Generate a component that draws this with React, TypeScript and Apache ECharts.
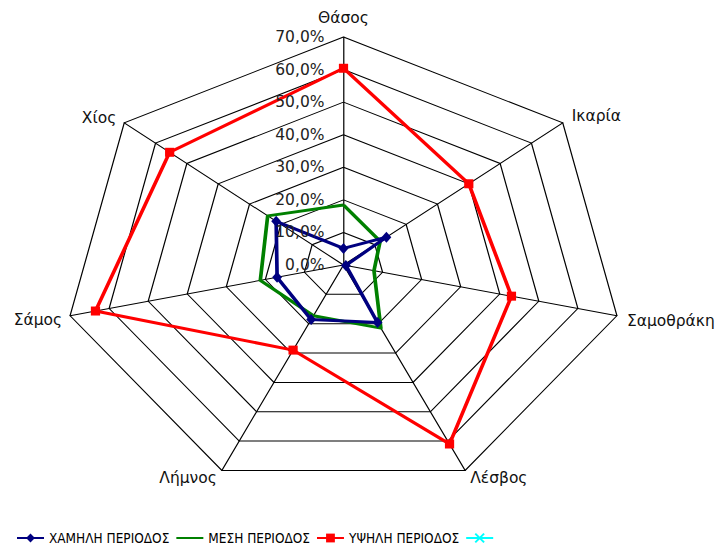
import React, { useEffect, useRef } from 'react';
import * as echarts from 'echarts';

// Categories listed clockwise starting from the top spoke
const categories = ['Θάσος', 'Ικαρία', 'Σαμοθράκη', 'Λέσβος', 'Λήμνος', 'Σάμος', 'Χίος'];
const lowSeason = [5.1, 13.7, 0.6, 19.6, 18.6, 17.0, 21.5];
const midSeason = [18.4, 11.7, 7.8, 21.5, 17.3, 21.3, 24.2];
const highSeason = [60.4, 40.0, 43.0, 61.0, 29.0, 63.5, 55.5];
const extraSeason: number[] = [];
const tickValues = [0, 10, 20, 30, 40, 50, 60, 70];
const seriesNames = ['ΧΑΜΗΛΗ ΠΕΡΙΟΔΟΣ', 'ΜΕΣΗ ΠΕΡΙΟΔΟΣ', 'ΥΨΗΛΗ ΠΕΡΙΟΔΟΣ', ' '];
const AXIS_MAX = 70;

// layout
const W = 717;
const H = 549;
const STRETCH = 1.23;
const A_W = W / STRETCH;
const CX = 343.5;
const CY = 265;
const R = 228;
const FONT = '"DejaVu Sans", Verdana, sans-serif';
const LEGEND_FONT = '"DejaVu Sans Condensed", "DejaVu Sans", sans-serif';

// name label offsets from each outer vertex [dx, dy, align]
const nameLayout: [number, number, string][] = [
  [0, -19, 'center'],
  [9, -7, 'left'],
  [10, 5, 'left'],
  [5, 8, 'left'],
  [-5, 8, 'right'],
  [-8, 4, 'right'],
  [-8, -5, 'right'],
];

// ECharts places indicators counter-clockwise: reorder so they run clockwise
function ccw<T>(arr: T[]): T[] {
  return [arr[0], ...arr.slice(1).reverse()];
}

const fmtPct = (v: number) => v.toFixed(1).replace('.', ',') + '%';

export default function App() {
  const refA = useRef<HTMLDivElement>(null);
  const refB = useRef<HTMLDivElement>(null);

  useEffect(() => {
    if (!refA.current || !refB.current) return;
    const chartA = echarts.init(refA.current, undefined, { renderer: 'svg' });
    const chartB = echarts.init(refB.current, undefined, { renderer: 'svg' });

    chartA.setOption({
      animation: false,
      radar: {
        center: [CX / STRETCH, CY],
        radius: R,
        startAngle: 90,
        shape: 'polygon',
        splitNumber: 7,
        indicator: ccw(categories).map((name) => ({ name, min: 0, max: AXIS_MAX })),
        axisName: { show: false },
        axisLine: { lineStyle: { color: '#000', width: 1 } },
        splitLine: { lineStyle: { color: '#000', width: 1 } },
        splitArea: { show: false },
        axisLabel: { show: false },
        axisTick: { show: false },
      },
      series: [
        {
          type: 'radar',
          silent: true,
          data: [
            {
              name: seriesNames[1],
              value: ccw(midSeason),
              symbol: 'none',
              lineStyle: { color: '#008000', width: 3 },
              itemStyle: { color: '#008000' },
            },
            {
              name: seriesNames[0],
              value: ccw(lowSeason),
              symbol: 'diamond',
              symbolSize: [8, 11],
              lineStyle: { color: '#000080', width: 3 },
              itemStyle: { color: '#000080' },
            },
            {
              name: seriesNames[2],
              value: ccw(highSeason),
              symbol: 'rect',
              symbolSize: [7.5, 9],
              lineStyle: { color: '#ff0000', width: 3 },
              itemStyle: { color: '#ff0000' },
            },
          ],
        },
      ],
    });

    const n = categories.length;
    const nameTexts = categories.map((name, k) => {
      const ang = (k * 2 * Math.PI) / n;
      const vx = CX + STRETCH * R * Math.sin(ang);
      const vy = CY - R * Math.cos(ang);
      const [dx, dy, align] = nameLayout[k];
      return {
        type: 'text',
        x: vx + dx,
        y: vy + dy,
        style: {
          text: name,
          align,
          verticalAlign: 'middle',
          font: `15.5px ${FONT}`,
          fill: '#111',
        },
      };
    });
    const tickTexts = tickValues.map((v) => ({
      type: 'text',
      x: CX - 19,
      y: CY - (R * v) / AXIS_MAX,
      style: {
        text: fmtPct(v),
        align: 'right',
        verticalAlign: 'middle',
        font: `15.5px ${FONT}`,
        fill: '#222',
      },
    }));

    chartB.setOption({
      animation: false,
      grid: { show: false, left: -50, top: -50, width: 10, height: 10 },
      xAxis: { type: 'value', show: false },
      yAxis: { type: 'value', show: false },
      legend: {
        left: 11,
        top: 529,
        padding: [2, 5],
        itemWidth: 27,
        itemHeight: 11,
        itemGap: 6,
        textStyle: { fontFamily: LEGEND_FONT, fontSize: 13.5, color: '#000' },
        data: seriesNames,
      },
      series: [
        {
          type: 'line',
          name: seriesNames[0],
          data: extraSeason,
          symbol: 'diamond',
          symbolSize: [8, 10],
          lineStyle: { color: '#000080', width: 3 },
          itemStyle: { color: '#000080' },
        },
        {
          type: 'line',
          name: seriesNames[1],
          data: extraSeason,
          symbol: 'circle',
          lineStyle: { color: '#008000', width: 3 },
          itemStyle: { color: 'rgba(0,0,0,0)', borderWidth: 0 },
        },
        {
          type: 'line',
          name: seriesNames[2],
          data: extraSeason,
          symbol: 'rect',
          symbolSize: [8, 8],
          lineStyle: { color: '#ff0000', width: 3 },
          itemStyle: { color: '#ff0000' },
        },
        {
          type: 'line',
          name: seriesNames[3],
          data: extraSeason,
          symbol: 'path://M0,0L10,10M0,10L10,0',
          symbolSize: [8, 8],
          lineStyle: { color: '#00ffff', width: 2 },
          itemStyle: { color: 'none', borderColor: '#00ffff', borderWidth: 1.5 },
        },
      ],
      graphic: [...nameTexts, ...tickTexts],
    });

    return () => {
      chartA.dispose();
      chartB.dispose();
    };
  }, []);

  return (
    <div style={{ position: 'fixed', left: 0, top: 0, width: W, height: H, background: '#fff', overflow: 'hidden' }}>
      <div
        ref={refA}
        style={{
          position: 'absolute',
          left: 0,
          top: 0,
          width: A_W,
          height: H,
          transform: `scaleX(${STRETCH})`,
          transformOrigin: '0 0',
        }}
      />
      <div ref={refB} style={{ position: 'absolute', left: 0, top: 0, width: W, height: H }} />
    </div>
  );
}
